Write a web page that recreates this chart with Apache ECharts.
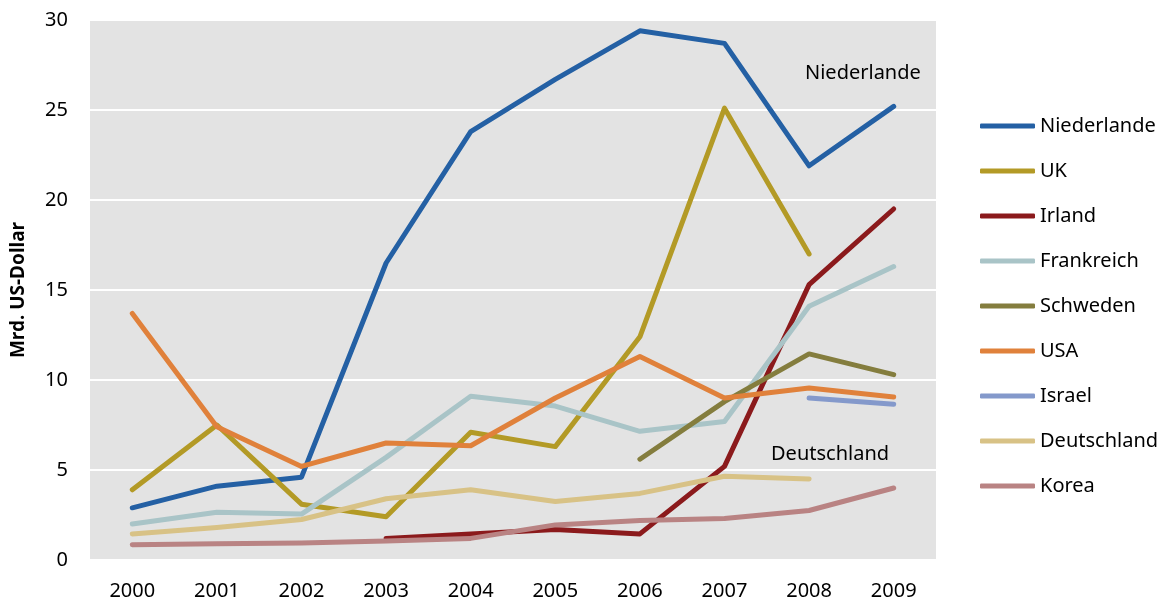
<!DOCTYPE html>
<html>
<head>
<meta charset="utf-8">
<script src="https://cdn.jsdelivr.net/npm/echarts@6/dist/echarts.min.js"></script>
<style>
  html, body { margin: 0; padding: 0; background: #fff; }
  #main { width: 1164px; height: 603px; }
</style>
</head>
<body>
<div id="main"></div>
<script>
const years = ['2000', '2001', '2002', '2003', '2004', '2005', '2006', '2007', '2008', '2009'];
const niederlande = [2.9, 4.1, 4.6, 16.5, 23.8, 26.7, 29.4, 28.7, 21.9, 25.2];
const uk = [3.9, 7.5, 3.1, 2.4, 7.1, 6.3, 12.4, 25.1, 17.0, null];
const irland = [null, null, null, 1.2, 1.45, 1.7, 1.45, 5.2, 15.3, 19.5];
const frankreich = [2.0, 2.65, 2.55, 5.7, 9.1, 8.55, 7.15, 7.7, 14.1, 16.3];
const schweden = [null, null, null, null, null, null, 5.6, 8.8, 11.45, 10.3];
const usa = [13.7, 7.4, 5.2, 6.5, 6.35, 9.0, 11.3, 9.0, 9.55, 9.05];
const israel = [null, null, null, null, null, null, null, null, 9.0, 8.65];
const deutschland = [1.45, 1.8, 2.25, 3.4, 3.9, 3.25, 3.7, 4.65, 4.5, null];
const korea = [0.85, 0.9, 0.95, 1.05, 1.2, 1.95, 2.2, 2.3, 2.75, 4.0];
const yTicks = [0, 5, 10, 15, 20, 25, 30];

const font = '"Noto Sans", Lato, sans-serif';
const chart = echarts.init(document.getElementById('main'), null, { renderer: 'canvas' });

const makeSeries = (name, data, color) => ({
  name,
  type: 'line',
  data,
  symbol: 'none',
  showSymbol: false,
  connectNulls: false,
  animation: false,
  lineStyle: { color, width: 5, cap: 'round', join: 'round' },
  itemStyle: { color },
});

chart.setOption({
  animation: false,
  textStyle: { fontFamily: font },
  grid: {
    left: 90,
    right: 228,
    top: 20,
    bottom: 43,
    show: true,
    backgroundColor: '#e3e3e3',
    borderWidth: 0,
  },
  legend: {
    orient: 'vertical',
    left: 975,
    top: 111,
    icon: 'roundRect',
    itemWidth: 55,
    itemHeight: 5,
    itemGap: 25,
    textStyle: { fontFamily: font, fontSize: 20, lineHeight: 20, color: '#000' },
    data: ['Niederlande', 'UK', 'Irland', 'Frankreich', 'Schweden', 'USA', 'Israel', 'Deutschland', 'Korea'],
  },
  xAxis: {
    type: 'category',
    data: years,
    boundaryGap: true,
    axisLine: { show: false },
    axisTick: { show: false },
    axisLabel: { fontFamily: font, fontSize: 20, color: '#000', margin: 21 },
  },
  yAxis: {
    type: 'value',
    min: yTicks[0],
    max: yTicks[yTicks.length - 1],
    interval: 5,
    name: 'Mrd. US-Dollar',
    nameLocation: 'middle',
    nameGap: 62,
    nameTextStyle: { fontFamily: font, fontSize: 19, fontWeight: 'bold', color: '#000' },
    axisLine: { show: false },
    axisTick: { show: false },
    axisLabel: { fontFamily: font, fontSize: 20, color: '#000', margin: 22 },
    splitLine: { lineStyle: { color: '#ffffff', width: 2 } },
  },
  graphic: [
    { type: 'text', x: 805, y: 73, style: { text: 'Niederlande', font: '20px ' + font, fill: '#000', verticalAlign: 'middle' } },
    { type: 'text', x: 771, y: 454, style: { text: 'Deutschland', font: '20px ' + font, fill: '#000', verticalAlign: 'middle' } },
  ],
  series: [
    makeSeries('Niederlande', niederlande, '#2460a4'),
    makeSeries('UK', uk, '#b39a26'),
    makeSeries('Irland', irland, '#8b1a1c'),
    makeSeries('Frankreich', frankreich, '#a9c4c7'),
    makeSeries('Schweden', schweden, '#847d3e'),
    makeSeries('USA', usa, '#e0813b'),
    makeSeries('Israel', israel, '#8499cb'),
    makeSeries('Deutschland', deutschland, '#d8c286'),
    makeSeries('Korea', korea, '#b98383'),
  ],
});
</script>
</body>
</html>
